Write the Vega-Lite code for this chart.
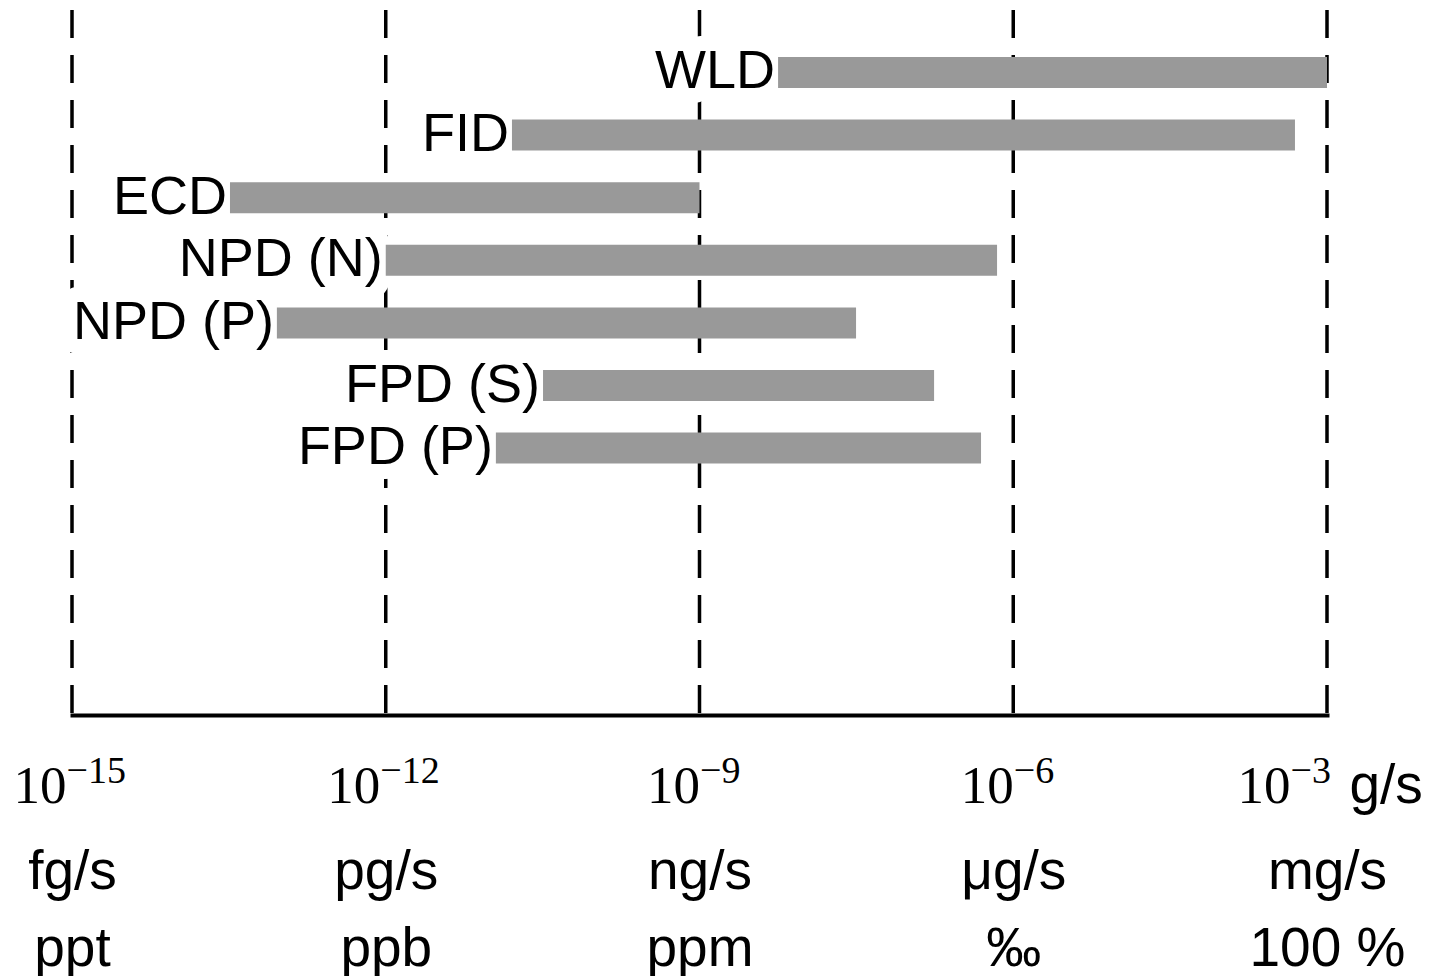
{
  "$schema": "https://vega.github.io/schema/vega-lite/v6.json",
  "autosize": {"type": "none"},
  "width": 1255,
  "height": 705,
  "padding": {"left": 72, "top": 10, "right": 102, "bottom": 261},
  "background": "white",
  "config": {"view": {"stroke": null}},
  "datasets": {
    "decades": [{"v": 1e-15}, {"v": 1e-12}, {"v": 1e-9}, {"v": 1e-6}, {"v": 1e-3}],
    "ranges": [
      {"detector": "WLD", "lo": 5.64e-9, "hi": 1e-3},
      {"detector": "FID", "lo": 1.61e-11, "hi": 4.94e-4},
      {"detector": "ECD", "lo": 3.24e-14, "hi": 1e-9},
      {"detector": "NPD (N)", "lo": 1e-12, "hi": 7.0e-7},
      {"detector": "NPD (P)", "lo": 9.1e-14, "hi": 3.14e-8},
      {"detector": "FPD (S)", "lo": 3.19e-11, "hi": 1.75e-7},
      {"detector": "FPD (P)", "lo": 1.13e-11, "hi": 4.92e-7}
    ]
  },
  "resolve": {"scale": {"x": "shared", "y": "shared"}, "axis": {"x": "independent"}},
  "layer": [
    {
      "data": {"name": "decades"},
      "mark": {"type": "rule", "color": "black", "strokeWidth": 3.5, "strokeDash": [28, 17]},
      "encoding": {
        "x": {
          "field": "v", "type": "quantitative",
          "scale": {"type": "log", "domain": [1e-15, 1e-3], "nice": false},
          "axis": {
            "orient": "bottom", "title": null, "grid": false, "ticks": false, "tickSize": 0,
            "values": [1e-15, 1e-12, 1e-9, 1e-6, 1e-3],
            "domain": true, "domainColor": "black", "domainWidth": 4, "domainCap": "square",
            "labelFont": "Liberation Serif, DejaVu Serif", "labelFontSize": 53, "labelColor": "black",
            "labelBaseline": "alphabetic", "labelPadding": 87, "labelAlign": "right",
            "labelOffset": {"condition": [{"test": "datum.value < 1e-10", "value": -6}, {"test": "datum.value > 1e-4", "value": -37}], "value": 0},
            "labelOverlap": false, "labelBound": false, "labelFlush": false,
            "labelExpr": "'10'"
          }
        }
      }
    },
    {
      "data": {"name": "ranges"},
      "mark": {"type": "text", "align": "right", "baseline": "middle", "dx": -3, "font": "Liberation Sans, Arial, sans-serif", "fontSize": 54, "color": "white", "stroke": "white", "strokeWidth": 30, "strokeJoin": "round"},
      "encoding": {
        "x": {
          "field": "lo", "type": "quantitative",
          "scale": {"type": "log", "domain": [1e-15, 1e-3], "nice": false},
          "axis": {
            "orient": "bottom", "title": null, "grid": false, "ticks": false, "tickSize": 0, "domain": false,
            "values": [1e-3],
            "labelFont": "Liberation Sans, Arial, sans-serif", "labelFontSize": 55, "labelColor": "black",
            "labelBaseline": "alphabetic", "labelPadding": 87, "labelAlign": "left", "labelOffset": 22,
            "labelOverlap": false, "labelBound": false, "labelFlush": false,
            "labelExpr": "'g/s'"
          }
        },
        "y": {"field": "detector", "type": "nominal", "sort": null, "axis": null},
        "text": {"field": "detector"}
      }
    },
    {
      "data": {"name": "ranges"},
      "mark": {"type": "bar", "color": "#999999"},
      "encoding": {
        "x": {
          "field": "lo", "type": "quantitative",
          "scale": {"type": "log", "domain": [1e-15, 1e-3], "nice": false},
          "axis": {
            "orient": "bottom", "title": null, "grid": false, "ticks": false, "tickSize": 0, "domain": false,
            "values": [1e-15, 1e-12, 1e-9, 1e-6, 1e-3],
            "labelFont": "Liberation Sans, Arial, sans-serif", "labelFontSize": 55, "labelColor": "black",
            "labelBaseline": "alphabetic", "labelPadding": 173, "labelAlign": "center",
            "labelOverlap": false, "labelBound": false, "labelFlush": false,
            "labelExpr": "round(log(datum.value)/LN10) == -15 ? 'fg/s' : round(log(datum.value)/LN10) == -12 ? 'pg/s' : round(log(datum.value)/LN10) == -9 ? 'ng/s' : round(log(datum.value)/LN10) == -6 ? 'μg/s' : 'mg/s'"
          }
        },
        "x2": {"field": "hi"},
        "y": {
          "field": "detector", "type": "nominal", "sort": null,
          "scale": {"range": [47, 453.6], "paddingInner": 0.505, "paddingOuter": 0},
          "axis": null
        }
      }
    },
    {
      "data": {"name": "ranges"},
      "mark": {"type": "text", "align": "right", "baseline": "middle", "dx": -3, "font": "Liberation Sans, Arial, sans-serif", "fontSize": 54, "color": "black"},
      "encoding": {
        "x": {
          "field": "lo", "type": "quantitative",
          "scale": {"type": "log", "domain": [1e-15, 1e-3], "nice": false},
          "axis": {
            "orient": "bottom", "title": null, "grid": false, "ticks": false, "tickSize": 0, "domain": false,
            "values": [1e-15, 1e-12, 1e-9, 1e-6, 1e-3],
            "labelFont": "Liberation Sans, Arial, sans-serif", "labelFontSize": 55, "labelColor": "black",
            "labelBaseline": "alphabetic", "labelPadding": 250, "labelAlign": "center",
            "labelOverlap": false, "labelBound": false, "labelFlush": false,
            "labelExpr": "round(log(datum.value)/LN10) == -15 ? 'ppt' : round(log(datum.value)/LN10) == -12 ? 'ppb' : round(log(datum.value)/LN10) == -9 ? 'ppm' : round(log(datum.value)/LN10) == -6 ? '‰' : '100 %'"
          }
        },
        "y": {"field": "detector", "type": "nominal", "sort": null, "axis": null},
        "text": {"field": "detector"}
      }
    },
    {
      "data": {"name": "decades"},
      "mark": {"type": "rule", "opacity": 0},
      "encoding": {
        "x": {
          "field": "v", "type": "quantitative",
          "scale": {"type": "log", "domain": [1e-15, 1e-3], "nice": false},
          "axis": {
            "orient": "bottom", "title": null, "grid": false, "ticks": false, "tickSize": 0, "domain": false,
            "values": [1e-15, 1e-12, 1e-9, 1e-6, 1e-3],
            "labelFont": "Liberation Serif, DejaVu Serif", "labelFontSize": 38, "labelColor": "black",
            "labelBaseline": "alphabetic", "labelPadding": 67, "labelAlign": "left",
            "labelOffset": {"condition": [{"test": "datum.value < 1e-10", "value": -6}, {"test": "datum.value > 1e-4", "value": -37}], "value": 0},
            "labelOverlap": false, "labelBound": false, "labelFlush": false,
            "labelExpr": "'−' + format(-round(log(datum.value)/LN10), 'd')"
          }
        }
      }
    }
  ]
}
